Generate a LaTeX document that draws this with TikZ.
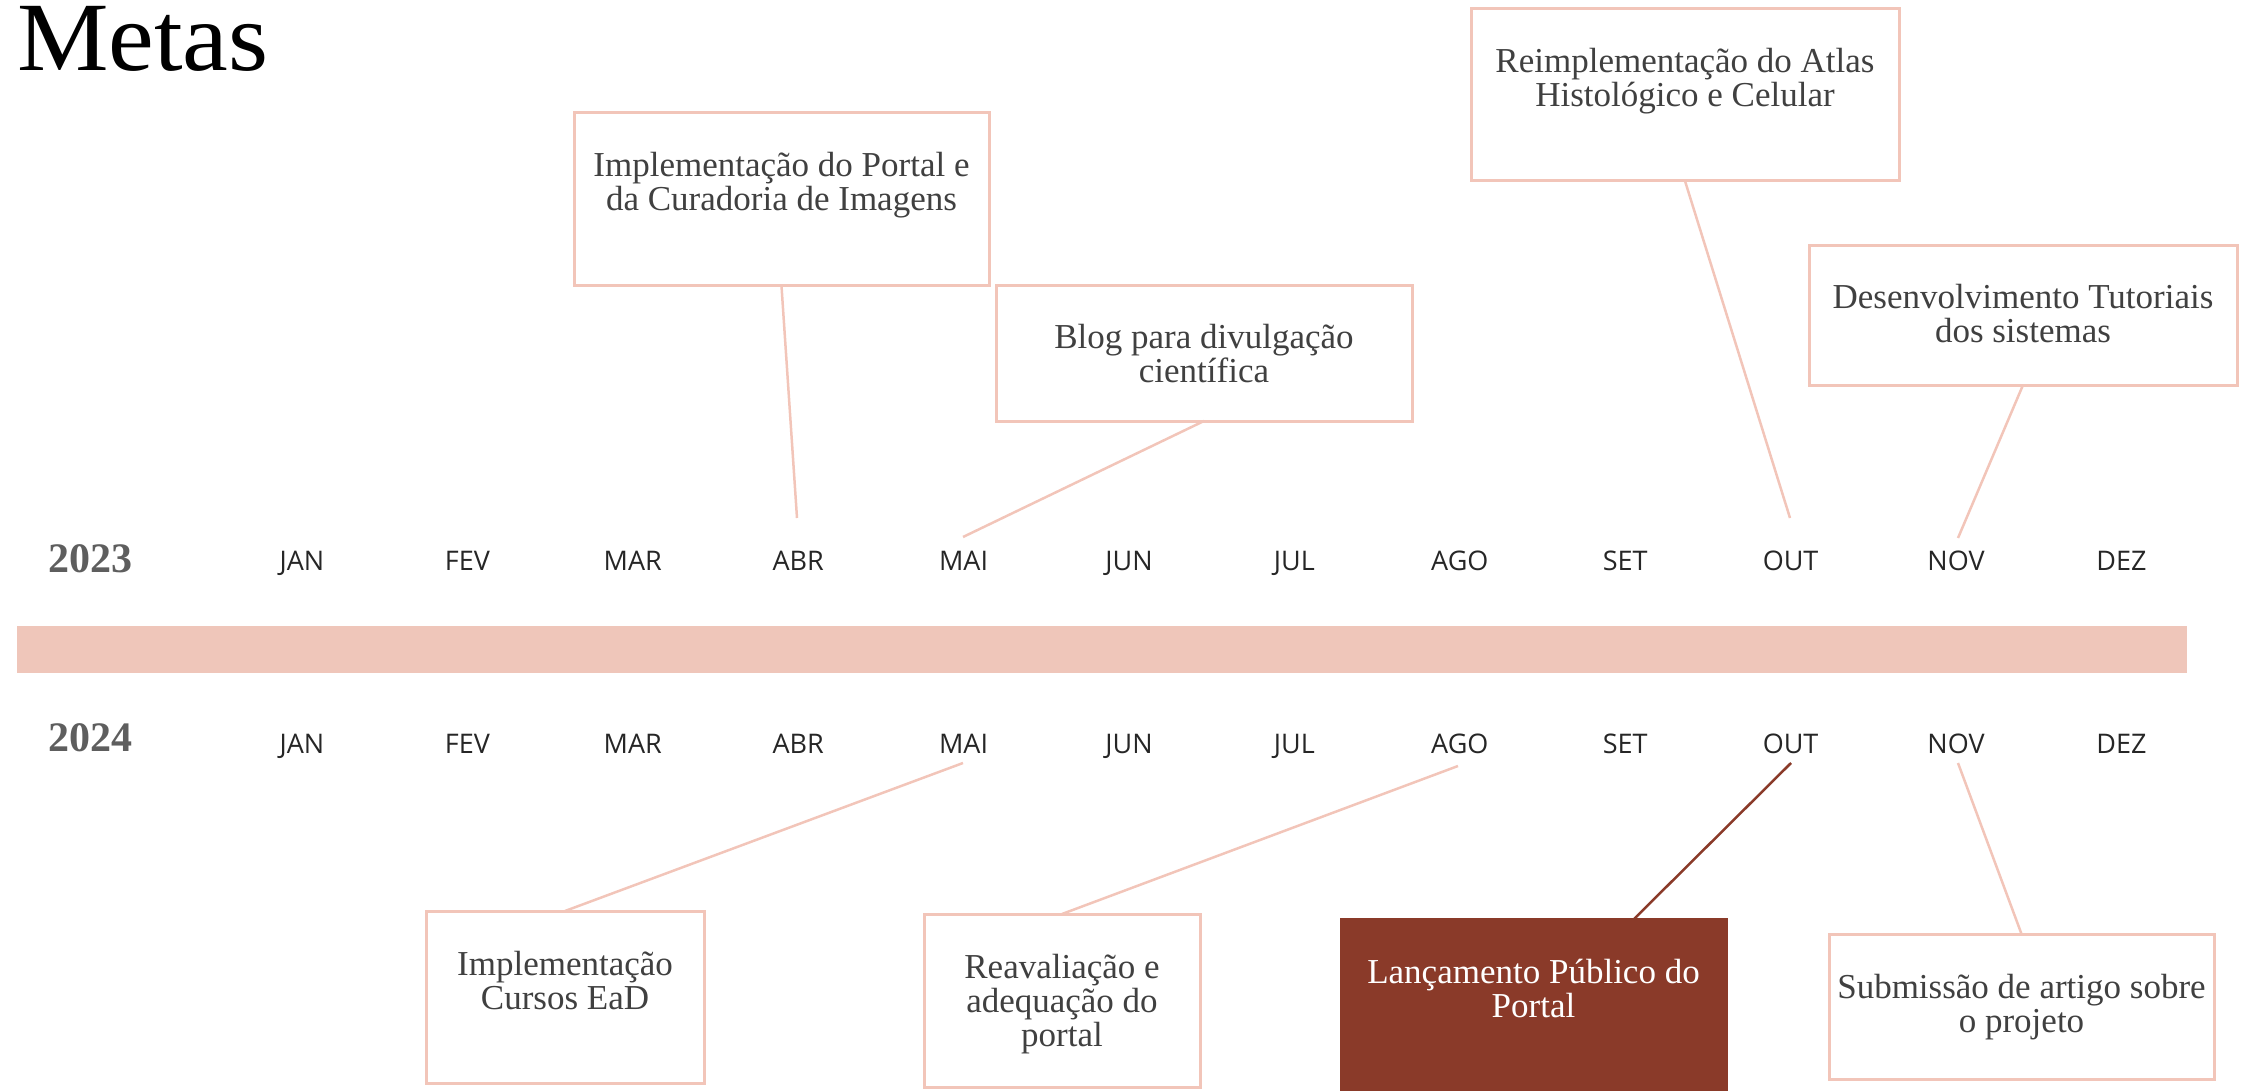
\documentclass[tikz,border=0pt]{standalone}
\usepackage{fontspec}
\setmainfont{Liberation Serif}
\newfontfamily\monthfont{Open Sans}
\newfontfamily\titlefont[FakeStretch=1.05]{Liberation Serif}
\usetikzlibrary{calc}
\definecolor{boxline}{HTML}{F2C5B9}
\definecolor{barfill}{HTML}{EFC6BA}
\definecolor{rust}{HTML}{8A3A29}
\definecolor{txt}{HTML}{404040}
\definecolor{yeargray}{HTML}{5E5E5E}
\definecolor{monthc}{HTML}{262626}
\begin{document}
\begin{tikzpicture}[x=1pt,y=-1pt,
  goalbox/.style={draw=boxline, line width=3pt, fill=white, inner sep=0pt, outer sep=0pt, anchor=north west},
  goaltext/.style={anchor=north, inner sep=0pt, align=center, text=txt, font=\fontsize{35}{34}\selectfont},
  link/.style={draw=boxline, line width=2.5pt},
  month/.style={anchor=base, inner sep=0pt, font=\monthfont\fontsize{27}{30}\selectfont, text=monthc},
  yearlab/.style={anchor=base west, inner sep=0pt, font=\bfseries\fontsize{42}{45}\selectfont, text=yeargray}]
\useasboundingbox (0,0) rectangle (2244,1091);

% title
\node[anchor=base west, inner sep=0pt, text height=66pt, font=\titlefont\fontsize{98}{110}\selectfont] (title) at (17,71) {Metas};

% timeline bar
\fill[barfill] (17,626) rectangle (2187,673);

% years
\node[yearlab] (y23) at (48,572) {2023};
\node[yearlab] (y24) at (48,751) {2024};

% months
\foreach \m [count=\i from 0] in {JAN,FEV,MAR,ABR,MAI,JUN,JUL,AGO,SET,OUT,NOV,DEZ}{
  \node[month] (a\i) at ({302+165.4*\i},570) {\m};
  \node[month] (c\i) at ({302+165.4*\i},753) {\m};
}

% connector ends near months
\coordinate (e1) at (797,518);
\coordinate (e2) at (963,537);
\coordinate (e3) at (1790,518);
\coordinate (e4) at (1958,538);
\coordinate (e5) at (963,763);
\coordinate (e6) at (1458,766);
\coordinate (e7) at (1791,763);
\coordinate (e8) at (1958,763);

% boxes
\node[goalbox, minimum width=415pt, minimum height=173pt] (b1) at (574,113) {};
\node[goalbox, minimum width=416pt, minimum height=135pt] (b2) at (996,286) {};
\node[goalbox, minimum width=428pt, minimum height=172pt] (b3) at (1471,9) {};
\node[goalbox, minimum width=428pt, minimum height=139pt] (b4) at (1809,246) {};
\node[goalbox, minimum width=278pt, minimum height=172pt] (b5) at (426,911) {};
\node[goalbox, minimum width=276pt, minimum height=173pt] (b6) at (924,914) {};
\node[goalbox, draw=rust, fill=rust, minimum width=385pt, minimum height=185pt] (b7) at (1341,919) {};
\node[goalbox, minimum width=385pt, minimum height=145pt] (b8) at (1829,934) {};

% connectors
\draw[link] (b1.south) -- (e1);
\draw[link] (b2.south) -- (e2);
\draw[link] (b3.south) -- (e3);
\draw[link] (b4.south) -- (e4);
\draw[link] (b5.north) -- (e5);
\draw[link] (b6.north) -- (e6);
\draw[link, draw=rust] ($(b7.north west)+(293,0)$) -- (e7);
\draw[link] (b8.north) -- (e8);

% box texts
\node[goaltext] (t1) at ($(b1.north)+(0,33)$) {\rule{0pt}{30pt}Implementação do Portal e\\da Curadoria de Imagens};
\node[goaltext] (t2) at ($(b2.north)+(0,32)$) {\rule{0pt}{30pt}Blog para divulgação\\científica};
\node[goaltext] (t3) at ($(b3.north)+(0,33)$) {\rule{0pt}{30pt}Reimplementação do Atlas\\Histológico e Celular};
\node[goaltext] (t4) at ($(b4.north)+(0,32)$) {\rule{0pt}{30pt}Desenvolvimento Tutoriais\\dos sistemas};
\node[goaltext] (t5) at ($(b5.north)+(0,34)$) {\rule{0pt}{30pt}Implementação\\Cursos EaD};
\node[goaltext] (t6) at ($(b6.north)+(0,34)$) {\rule{0pt}{30pt}Reavaliação e\\adequação do\\portal};
\node[goaltext, text=white] (t7) at ($(b7.north)+(0,34)$) {\rule{0pt}{30pt}Lançamento Público do\\Portal};
\node[goaltext] (t8) at ($(b8.north)+(0,34)$) {\rule{0pt}{30pt}Submissão de artigo sobre\\o projeto};
\end{tikzpicture}
\end{document}
